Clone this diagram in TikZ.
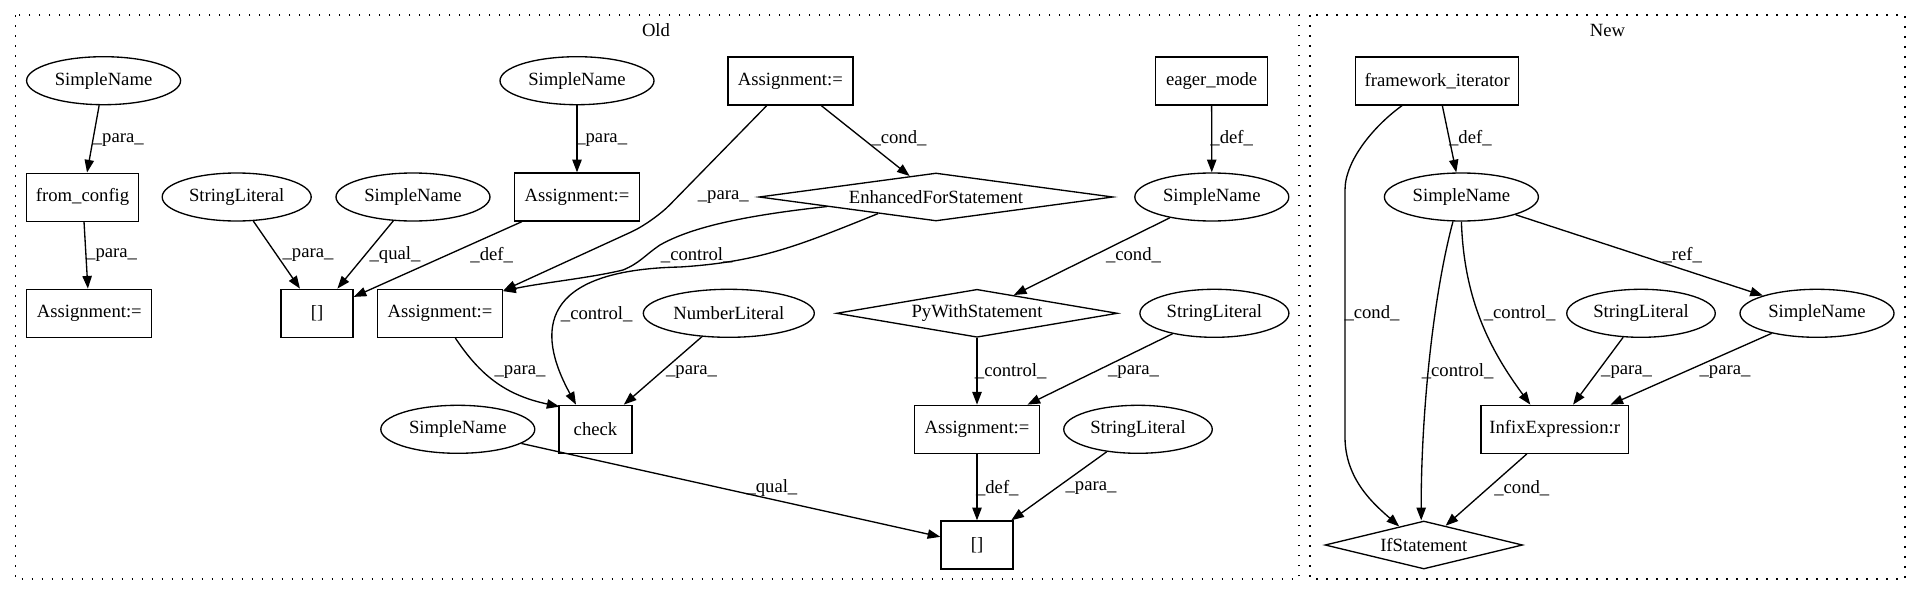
\documentclass[tikz,border=0pt]{standalone}
\usepackage{fontspec}
\setmainfont{Liberation Serif}
\usetikzlibrary{shapes.geometric,arrows.meta}
\begin{document}
\begin{tikzpicture}[x=0.75pt,y=-0.75pt,
  every node/.style={font=\fontsize{14}{16}\selectfont},
  wpx/.style={minimum width=#1*0.75pt},
  box/.style={draw,rectangle,line width=1pt,minimum height=36pt,inner sep=0pt},
  ell/.style={draw,ellipse,line width=1pt,minimum height=36pt,inner sep=0pt},
  dia/.style={draw,diamond,line width=1pt,minimum height=36pt,inner sep=0pt},
  edge/.style={line width=1pt,-{Triangle[length=9.5pt,width=7pt]}},
  lbl/.style={inner sep=0pt},
  cluster/.style={line width=1pt,dash pattern=on 1.3pt off 6.2pt}]
\useasboundingbox (0,0) rectangle (1921,596);
% clusters
\draw[cluster] (15.6,15) rectangle (1299,579);
\draw[cluster] (1310,15) rectangle (1905,579);
\node[lbl] (oldlbl) at (656,30) {Old};
\node[lbl] (newlbl) at (1607.4,30) {New};
% Old nodes
\node[ell,wpx=154] (sn1) at (103.6,80.7) {SimpleName};
\node[box,wpx=111.6] (fc) at (82.6,197.2) {from\_config};
\node[box,wpx=125] (a1) at (89.3,313.3) {Assignment:=};
\node[ell,wpx=149] (sl1) at (236.7,197) {StringLiteral};
\node[ell,wpx=154] (sn2) at (413,197) {SimpleName};
\node[ell,wpx=154] (sn3) at (577,80.7) {SimpleName};
\node[box,wpx=125] (a2) at (577,197) {Assignment:=};
\node[box,wpx=72] (br1) at (317,313.3) {[]};
\node[box,wpx=125] (a3) at (440,313.3) {Assignment:=};
\node[box,wpx=125] (a4) at (790.4,81) {Assignment:=};
\node[dia,wpx=354,aspect=7.4] (efs) at (936,197) {EnhancedForStatement};
\node[box,wpx=111.6] (em) at (1211.6,81) {eager\_mode};
\node[ell,wpx=154] (sn4) at (1211.8,197) {SimpleName};
\node[ell,wpx=171] (nl) at (728.8,313.3) {NumberLiteral};
\node[dia,wpx=281,aspect=5.85] (pws) at (977,313.3) {PyWithStatement};
\node[ell,wpx=149] (sl2) at (1214.4,313.3) {StringLiteral};
\node[ell,wpx=154] (sn5) at (457.8,429.3) {SimpleName};
\node[box,wpx=72.7] (chk) at (595.5,429.3) {check};
\node[box,wpx=125] (a5) at (977,429.3) {Assignment:=};
\node[ell,wpx=148.5] (sl3) at (1138,429.3) {StringLiteral};
\node[box,wpx=72] (br2) at (977,545) {[]};
% New nodes
\node[box,wpx=163] (fi) at (1437.2,81) {framework\_iterator};
\node[ell,wpx=154] (sn6) at (1461.4,197) {SimpleName};
\node[ell,wpx=148.5] (sl4) at (1641,313.3) {StringLiteral};
\node[ell,wpx=154] (sn7) at (1817,313.3) {SimpleName};
\node[box,wpx=147.4] (ie) at (1554.7,429.3) {InfixExpression:r};
\node[dia,wpx=197.6,aspect=4.1] (ifs) at (1423.8,545) {IfStatement};
% Old edges
\draw[edge] (sn1) -- (fc);
\draw[edge] (fc) -- (a1);
\draw[edge] (sn3) -- (a2);
\draw[edge] (sl1) -- (br1);
\draw[edge] (sn2) -- (br1);
\draw[edge] (a2) -- (br1);
\draw[edge,rounded corners=18pt] ([shift={(-23.7,0)}]a4.south) -- (653,222) -- ([shift={(0,2)}]a3.north east);
\draw[edge] (a4) -- (efs);
\draw[edge] (efs.185) .. controls (740,216) and (690,228) .. (660,245) .. controls (645,255) and (640,263) .. (623,270) .. controls (590,278) and (540,283) .. ([shift={(0,2.5)}]a3.north east);
\draw[edge] (efs.196) .. controls (800,245) and (760,262) .. (680,267) .. controls (540,270) and (535,330) .. ([shift={(-19.5,0)}]chk.north);
\draw[edge] ([shift={(15.3,0)}]a3.south) .. controls (480,375) and (505,395) .. ([shift={(1,2)}]chk.north west);
\draw[edge] (nl) -- (chk);
\draw[edge] (em) -- (sn4);
\draw[edge] (sn4) -- (pws);
\draw[edge] (pws) -- (a5);
\draw[edge] (sl2) -- (a5);
\draw[edge] (a5) -- (br2);
\draw[edge] (sl3) -- (br2);
\draw[edge] (sn5) -- (br2);
% New edges
\draw[edge] (fi) -- (sn6);
\draw[edge] ([shift={(-35.2,0)}]fi.south) .. controls (1375,125) and (1345,160) .. (1345,190) -- (1345,437) .. controls (1345,480) and (1375,505) .. (ifs.143);
\draw[edge] (sn6) -- (sn7);
\draw[edge] (sn6.251) .. controls (1432,300) and (1421,420) .. ([shift={(-2.6,0)}]ifs.north);
\draw[edge] (sn6.south) .. controls (1464,300) and (1490,350) .. ([shift={(-24.4,0)}]ie.north);
\draw[edge] (sl4) -- (ie);
\draw[edge] (sn7) -- (ie);
\draw[edge] (ie) -- (ifs);
% Old labels
\node[lbl] (l1) at (118.3,140) {\_para\_};
\node[lbl] (l2) at (111.6,255) {\_para\_};
\node[lbl] (l3) at (601.7,140) {\_para\_};
\node[lbl] (l4) at (308,255) {\_para\_};
\node[lbl] (l5) at (395,255) {\_qual\_};
\node[lbl] (l6) at (491.7,255) {\_def\_};
\node[lbl] (l7) at (723.3,196.7) {\_para\_};
\node[lbl] (l8) at (899,138.3) {\_cond\_};
\node[lbl] (l9) at (696.7,255) {\_control\_};
\node[lbl] (l10) at (596.7,314) {\_control\_};
\node[lbl] (l11) at (520,371.7) {\_para\_};
\node[lbl] (l12) at (691.5,371.7) {\_para\_};
\node[lbl] (l13) at (1231.7,138.3) {\_def\_};
\node[lbl] (l14) at (1133.5,255) {\_cond\_};
\node[lbl] (l15) at (1010.7,371.7) {\_control\_};
\node[lbl] (l16) at (1133.5,371.7) {\_para\_};
\node[lbl] (l17) at (997.3,488.3) {\_def\_};
\node[lbl] (l18) at (1091,488.3) {\_para\_};
\node[lbl] (l19) at (771.9,488.3) {\_qual\_};
% New labels
\node[lbl] (l20) at (1470.4,138.3) {\_def\_};
\node[lbl] (l21) at (1372,313.3) {\_cond\_};
\node[lbl] (l22) at (1682.3,255) {\_ref\_};
\node[lbl] (l23) at (1457.6,371.7) {\_control\_};
\node[lbl] (l24) at (1519.6,313.3) {\_control\_};
\node[lbl] (l25) at (1626.6,371.7) {\_para\_};
\node[lbl] (l26) at (1725,371.7) {\_para\_};
\node[lbl] (l27) at (1521.8,488.3) {\_cond\_};
\end{tikzpicture}
\end{document}
